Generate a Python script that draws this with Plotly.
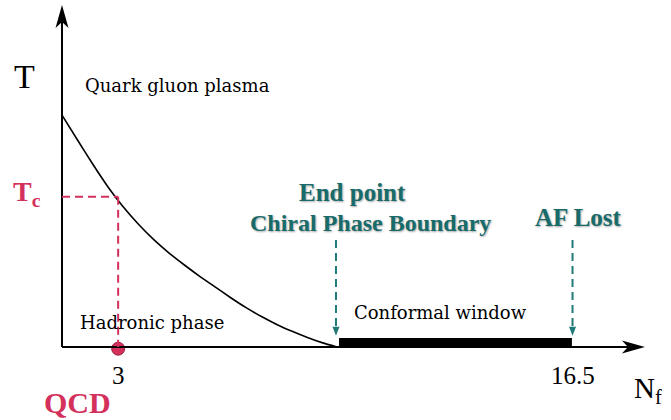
import plotly.graph_objects as go

# ---- data (schematic units: Nf along x, T along y) ----
curve_nf = [0.0, 0.5, 1.0, 1.5, 2.0, 2.5, 3.0, 3.5, 4.0, 4.5, 5.0, 5.5, 6.0, 6.5, 7.0, 7.5, 8.0, 8.5, 8.96]
curve_T = [6.78, 6.06, 5.35, 4.68, 4.09, 3.58, 3.13, 2.74, 2.39, 2.06, 1.75, 1.44, 1.15, 0.89, 0.66, 0.46, 0.28, 0.12, 0.0]

nf_qcd = 1.83          # position of Nf = 3
T_c = 4.39             # critical temperature level
nf_endpoint = 8.96     # end point of chiral phase boundary
nf_af = 16.64          # asymptotic freedom lost (Nf = 16.5)

tick_pos = [nf_qcd, nf_af]
tick_text = ["3", "16.5"]

X_END = 19.0
Y_END = 10.0

CRIMSON = "#d4305c"
TEAL = "#176b6a"
TEAL_LINE = "#1f7a78"

fig = go.Figure()

# phase boundary curve
fig.add_trace(go.Scatter(x=curve_nf, y=curve_T, mode="lines",
                         line=dict(color="black", width=1.6, shape="spline", smoothing=0.5),
                         hoverinfo="skip", showlegend=False))

shapes = []
# axes
shapes.append(dict(type="line", x0=0, y0=0, x1=X_END - 0.3, y1=0, line=dict(color="black", width=2)))
shapes.append(dict(type="line", x0=0, y0=0, x1=0, y1=Y_END - 0.3, line=dict(color="black", width=2)))
# arrowheads (pixel-sized, anchored at axis ends)
shapes.append(dict(type="path", xsizemode="pixel", ysizemode="pixel", xanchor=0, yanchor=Y_END,
                   path="M0,0 L-6.5,-23 L0,-17 L6.5,-23 Z", fillcolor="black", line=dict(width=0)))
shapes.append(dict(type="path", xsizemode="pixel", ysizemode="pixel", xanchor=X_END, yanchor=0,
                   path="M0,0 L-23,6.5 L-17,0 L-23,-6.5 Z", fillcolor="black", line=dict(width=0)))
# conformal window bar
shapes.append(dict(type="rect", x0=nf_endpoint + 0.07, x1=nf_af - 0.02, y0=0, y1=0.26,
                   fillcolor="black", line=dict(width=0)))
# Tc dashed guides
shapes.append(dict(type="line", x0=0, y0=T_c, x1=nf_qcd, y1=T_c,
                   line=dict(color=CRIMSON, width=2, dash="8px,5px")))
shapes.append(dict(type="line", x0=nf_qcd, y0=T_c, x1=nf_qcd, y1=0,
                   line=dict(color=CRIMSON, width=2, dash="8px,5px")))
# teal dashed arrows
for xv in [nf_endpoint - 0.03, nf_af]:
    shapes.append(dict(type="line", x0=xv, y0=3.13, x1=xv, y1=0.55,
                       line=dict(color=TEAL_LINE, width=2, dash="8px,5px")))
    shapes.append(dict(type="path", xsizemode="pixel", ysizemode="pixel", xanchor=xv, yanchor=0.33,
                       path="M0,0 L-3.5,9 L3.5,9 Z", fillcolor=TEAL_LINE, line=dict(width=0)))

# QCD point
fig.add_trace(go.Scatter(x=[nf_qcd], y=[-0.05], mode="markers",
                         marker=dict(size=13, color=CRIMSON, line=dict(color="#9c1f3f", width=1)),
                         hoverinfo="skip", showlegend=False, cliponaxis=False))

SERIF = "Liberation Serif"
SANS_SERIF = "DejaVu Serif"
shadow = "1px 1px 2px rgba(0,0,0,0.35)"

ann = []
def txt(x, y, s, size, color="black", family=SERIF, xanchor="center", shadow_=None):
    f = dict(size=size, color=color, family=family)
    if shadow_:
        f["shadow"] = shadow_
    ann.append(dict(x=x, y=y, text=s, showarrow=False, font=f, xanchor=xanchor, yanchor="middle"))

txt(-1.21, 7.92, "T", 34)
txt(0.68, 7.66, "Quark gluon plasma", 18, family=SANS_SERIF, xanchor="left")
txt(-1.15, 4.5, "<b>T<sub>c</sub></b>", 28, color=CRIMSON)
txt(2.92, 0.73, "Hadronic phase", 18, family=SANS_SERIF)
txt(12.34, 1.02, "Conformal window", 18, family=SANS_SERIF)
txt(9.48, 4.53, "<b>End point</b>", 25, color=TEAL, shadow_=shadow)
txt(10.04, 3.63, "<b>Chiral Phase Boundary</b>", 24, color=TEAL, shadow_=shadow)
txt(16.82, 3.80, "<b>AF Lost</b>", 25, color=TEAL, shadow_=shadow)
txt(0.49, -1.61, "<b>QCD</b>", 30, color=CRIMSON)
for p, t in zip(tick_pos, tick_text):
    txt(p, -0.82, t, 25)
txt(19.1, -1.25, "N<sub>f</sub>", 29)

fig.update_layout(
    width=671, height=420,
    margin=dict(l=0, r=0, t=0, b=0),
    paper_bgcolor="white", plot_bgcolor="white",
    xaxis=dict(range=[-2.021, 19.85], visible=False, fixedrange=True),
    yaxis=dict(range=[-2.135, 10.146], visible=False, fixedrange=True),
    shapes=shapes, annotations=ann, showlegend=False,
)

fig.write_html("out.html", config={"displayModeBar": False},
               post_script="document.body.style.margin='0';document.body.style.overflow='hidden';")
